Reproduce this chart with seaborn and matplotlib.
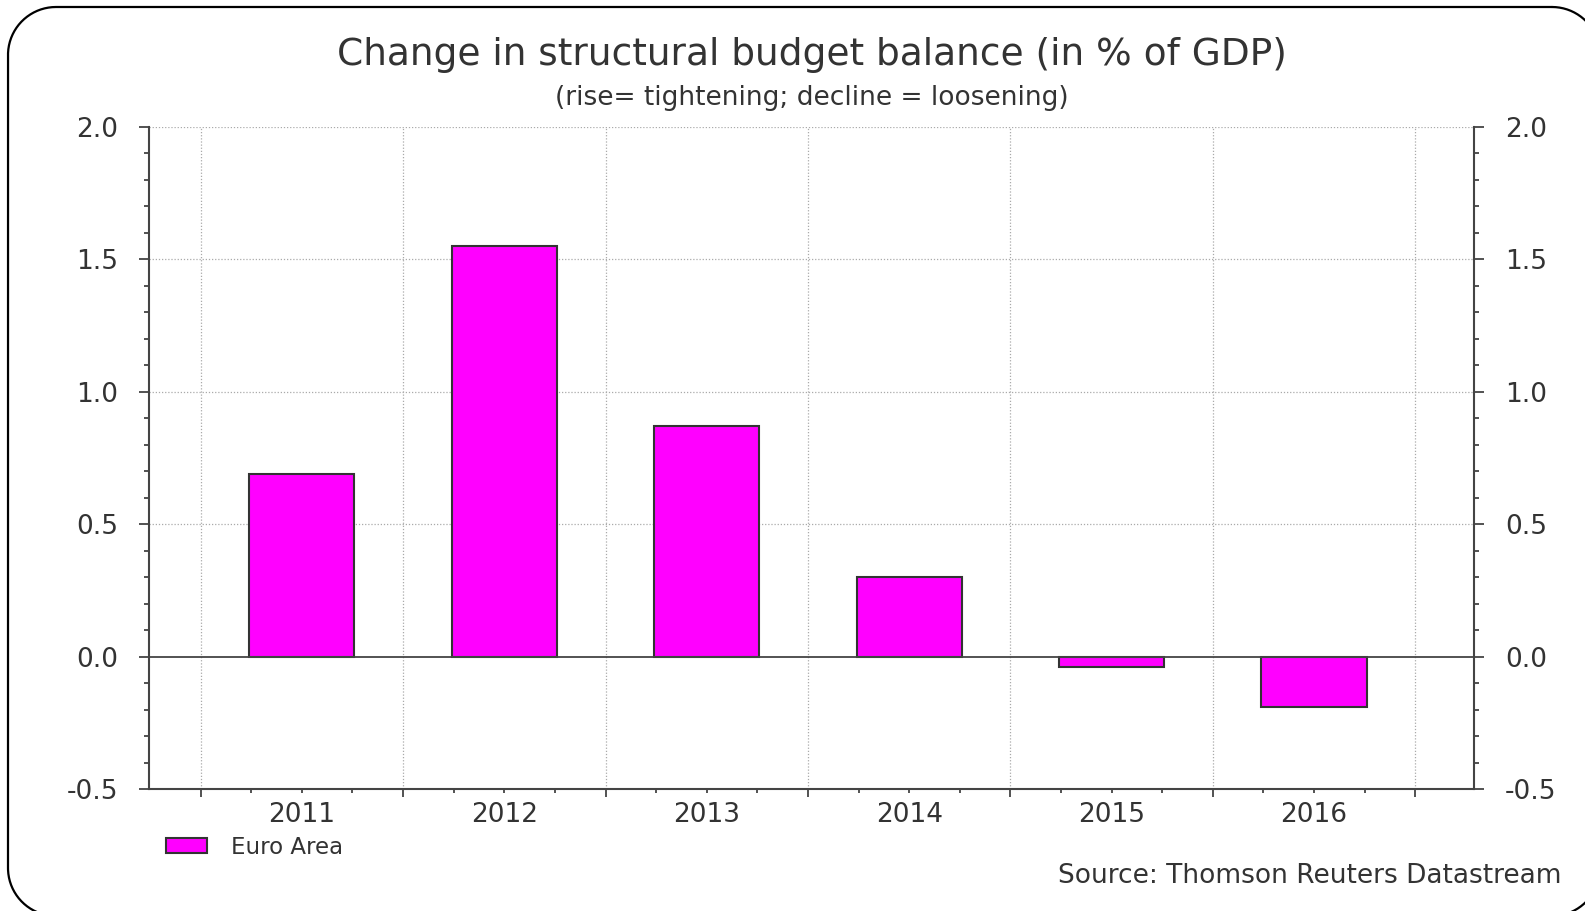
import matplotlib
matplotlib.use("Agg")
import matplotlib.pyplot as plt
import seaborn as sns
import numpy as np
import pandas as pd
from matplotlib.ticker import MultipleLocator, FixedLocator, FixedFormatter

# ---- data ----
years = ["2011", "2012", "2013", "2014", "2015", "2016"]
values = [0.69, 1.55, 0.87, 0.30, -0.04, -0.19]
series_name = "Euro Area"
title = "Change in structural budget balance (in % of GDP)"
subtitle = "(rise= tightening; decline = loosening)"
source = "Source: Thomson Reuters Datastream"
y_ticks = [-0.5, 0.0, 0.5, 1.0, 1.5, 2.0]

sns.set_theme(style="white")
plt.rcParams["font.family"] = ["DejaVu Sans"]
TXT = "#333333"
AX = "#444444"

W, H = 1585, 911
fig = plt.figure(figsize=(W / 100, H / 100), dpi=100)
fig.patch.set_facecolor("white")

# rounded frame drawn in a full-figure pixel-coordinate overlay (y down)
bg = fig.add_axes([0, 0, 1, 1], zorder=-5)
bg.set_xlim(0, W)
bg.set_ylim(H, 0)
bg.axis("off")
fx0, fx1, fy0, fy1, r = 8, 1600, 7, 916, 48
corners = [((fx1 - r, fy0 + r), -90, 0),     # top-right
           ((fx1 - r, fy1 - r), 0, 90),      # bottom-right
           ((fx0 + r, fy1 - r), 90, 180),    # bottom-left
           ((fx0 + r, fy0 + r), 180, 270)]   # top-left
px, py = [], []
for (cxp, cyp), a0, a1 in corners:
    t = np.radians(np.linspace(a0, a1, 40))
    px.extend(cxp + r * np.cos(t))
    py.extend(cyp + r * np.sin(t))
px.append(px[0])
py.append(py[0])
bg.plot(px, py, color="black", linewidth=1.6, clip_on=False,
        solid_capstyle="round")

left, right, top, bottom = 149 / W, 1474 / W, 1 - 127 / H, 1 - 789 / H
ax = fig.add_axes([left, bottom, right - left, top - bottom])

df = pd.DataFrame({"year": years, "value": values})
sns.barplot(data=df, x="year", y="value", color="#FF00FF", saturation=1,
            edgecolor="#333333", linewidth=1.5, width=0.52, ax=ax,
            label=series_name, zorder=3)

n = len(years)
ax.set_xlim(-0.755, n - 1 + 0.79)
ax.set_ylim(min(y_ticks), max(y_ticks))
ax.set_xlabel("")
ax.set_ylabel("")

# grid
bounds = np.arange(-0.5, n, 1.0)
for b in bounds:
    ax.axvline(b, color="#aaaaaa", linestyle=(0, (1, 1.5)), linewidth=0.9, zorder=1)
for yv in y_ticks:
    if yv not in (0.0, min(y_ticks)):
        ax.axhline(yv, color="#aaaaaa", linestyle=(0, (1, 1.5)), linewidth=0.9, zorder=1)
ax.axhline(0, color=AX, linewidth=1.3, zorder=4)

# spines
for s in ["top", "right"]:
    ax.spines[s].set_visible(False)
for s in ["left", "bottom"]:
    ax.spines[s].set_color(AX)
    ax.spines[s].set_linewidth(1.5)

TICK_FS = 19

# x ticks
ax.xaxis.set_major_locator(FixedLocator(bounds))
ax.xaxis.set_major_formatter(FixedFormatter([""] * len(bounds)))
quarters = []
qlabels = []
for i in range(n):
    for k, off in enumerate([-0.25, 0.0, 0.25]):
        quarters.append(i + off)
        qlabels.append(years[i] if k == 1 else "")
ax.xaxis.set_minor_locator(FixedLocator(quarters))
ax.xaxis.set_minor_formatter(FixedFormatter(qlabels))
ax.tick_params(axis="x", which="major", direction="out", length=6, width=1.3,
               color=AX, bottom=True)
ax.tick_params(axis="x", which="minor", direction="out", length=3, width=1.3,
               color=AX, bottom=True, labelsize=TICK_FS, labelcolor=TXT, pad=6)

# y ticks
ax.set_yticks(y_ticks)
ax.set_yticklabels([f"{v:.1f}" for v in y_ticks])
ax.yaxis.set_minor_locator(MultipleLocator(0.1))
ax.tick_params(axis="y", which="major", direction="out", length=7.5, width=1.3,
               color=AX, left=True, labelsize=TICK_FS, labelcolor=TXT, pad=15)
ax.tick_params(axis="y", which="minor", direction="out", length=3.8, width=1.3,
               color=AX, left=True)

# right axis
ax2 = ax.twinx()
ax2.set_ylim(ax.get_ylim())
ax2.set_yticks(y_ticks)
ax2.set_yticklabels([f"{v:.1f}" for v in y_ticks])
ax2.yaxis.set_minor_locator(MultipleLocator(0.1))
for s in ["top", "left", "bottom"]:
    ax2.spines[s].set_visible(False)
ax2.spines["right"].set_color(AX)
ax2.spines["right"].set_linewidth(1.5)
ax2.tick_params(axis="y", which="major", direction="out", length=7.5, width=1.3,
                color=AX, right=True, labelsize=TICK_FS, labelcolor=TXT, pad=15)
ax2.tick_params(axis="y", which="minor", direction="out", length=3.8, width=1.3,
                color=AX, right=True)
ax2.grid(False)
ax.grid(False)

# titles
cx = 812 / W
fig.text(cx, 1 - 55 / H, title, ha="center", va="center",
         fontsize=27, color=TXT)
fig.text(cx, 1 - 98 / H, subtitle, ha="center", va="center",
         fontsize=19, color=TXT)
fig.text(1562 / W, 1 - 876 / H, source, ha="right", va="center",
         fontsize=19, color=TXT)

# legend
handles, labels = ax.get_legend_handles_labels()
if ax.get_legend() is not None:
    ax.get_legend().remove()
fig.legend(handles, labels, loc="center left",
           bbox_to_anchor=(166 / W, 1 - 847 / H), frameon=False,
           borderaxespad=0, borderpad=0, fontsize=16.5, labelcolor=TXT,
           handlelength=1.8, handleheight=0.65, handletextpad=1.05)

fig.savefig("out.png", dpi=100, facecolor="white")
